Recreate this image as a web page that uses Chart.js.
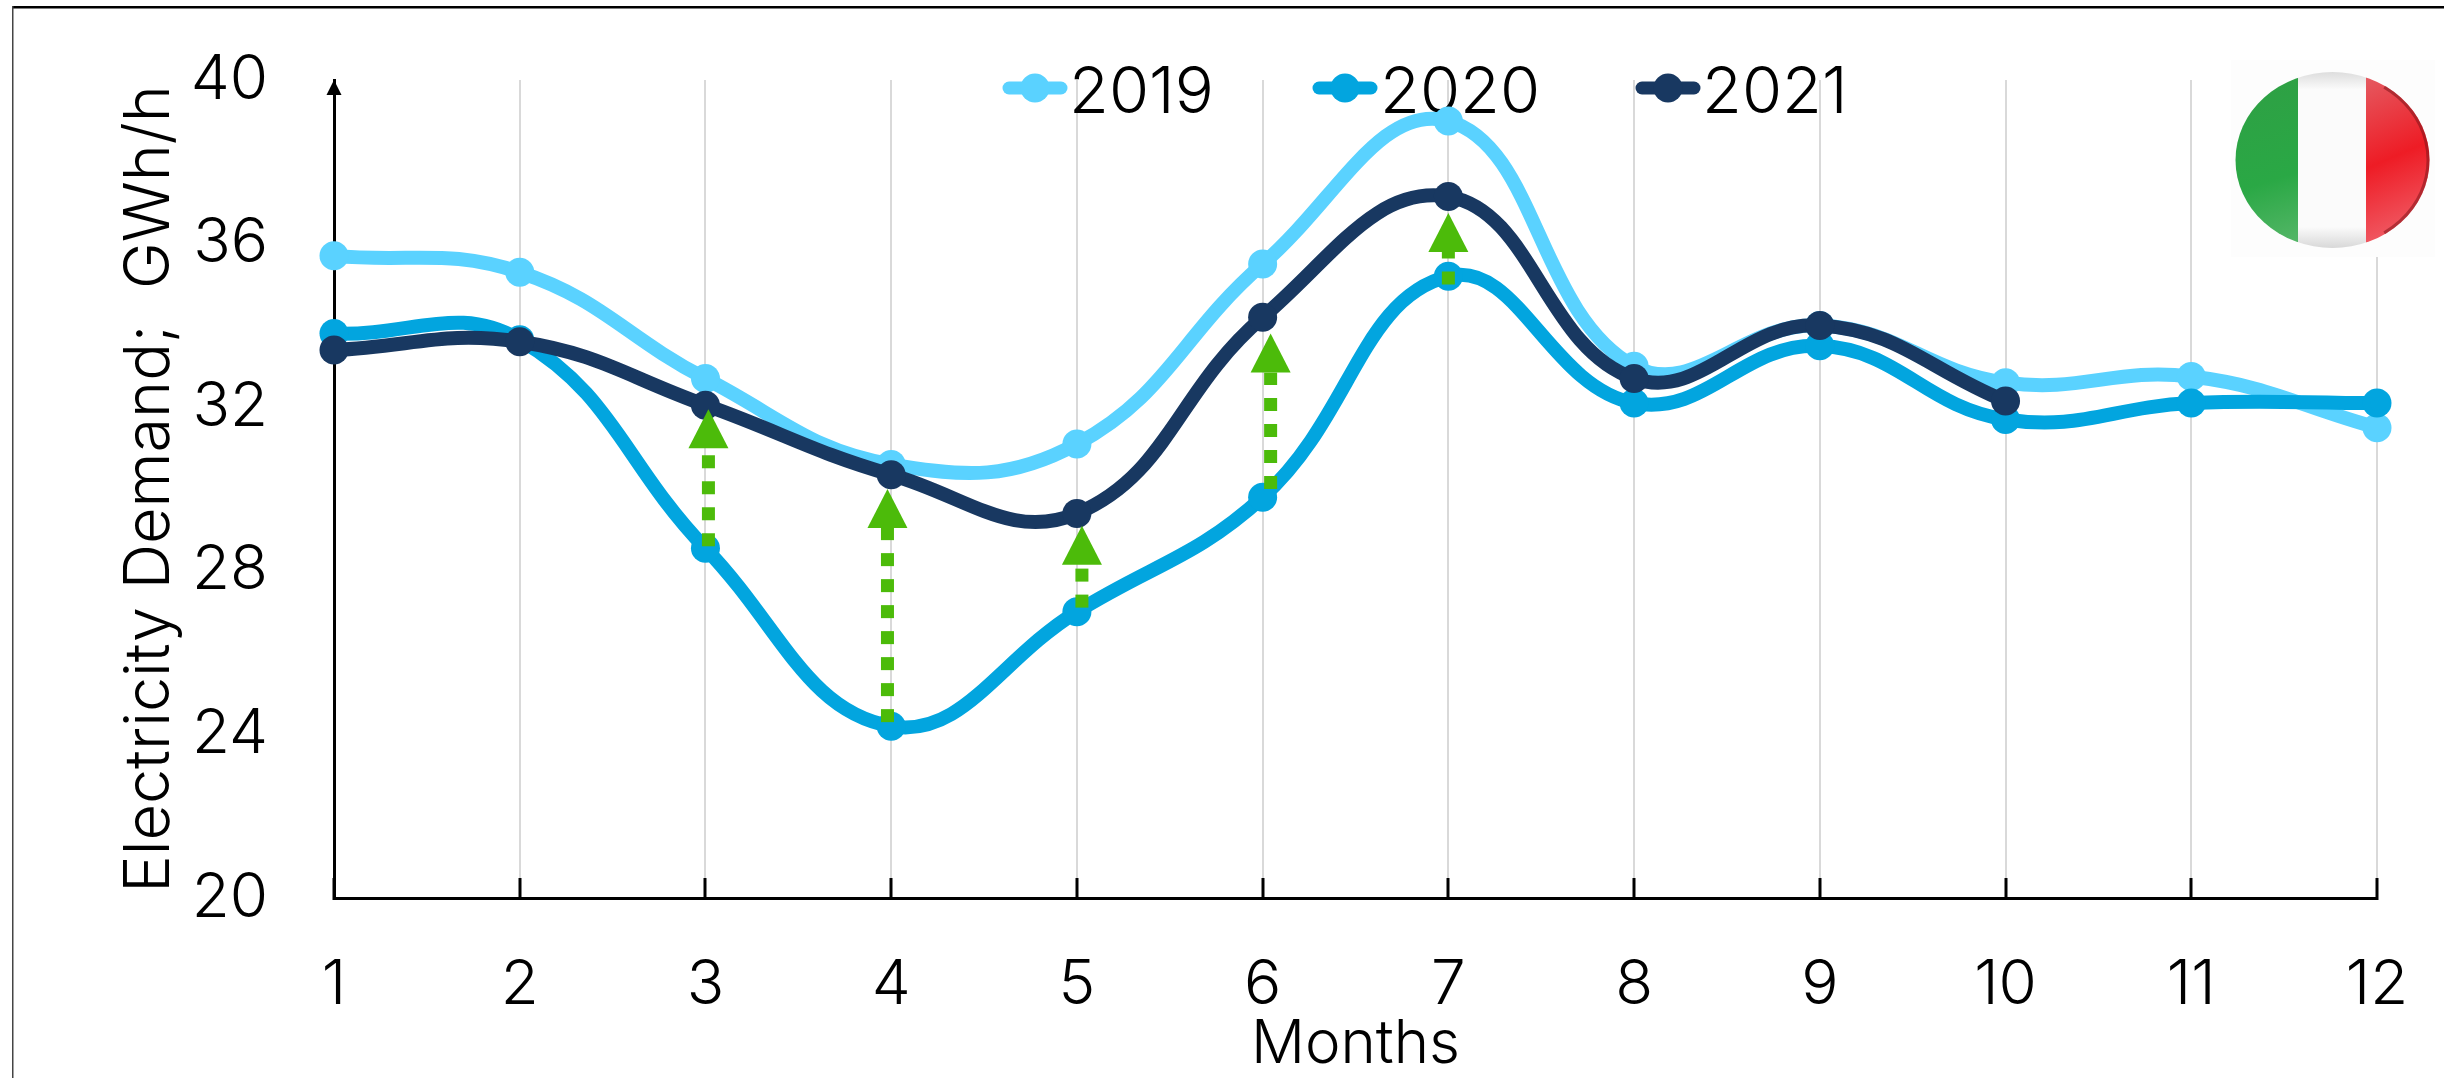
<!DOCTYPE html>
<html>
<head>
<meta charset="utf-8">
<title>Italy electricity demand</title>
<script src="https://cdn.jsdelivr.net/npm/chart.js@4"></script>
<style>
html,body{margin:0;padding:0;background:#fff;}
canvas{display:block;}
</style>
</head>
<body>
<canvas id="demandChart" width="2444" height="1078"></canvas>
<script>
// Data
const months=["1","2","3","4","5","6","7","8","9","10","11","12"];
const demand2019=[35.7,35.3,32.7,30.6,31.1,35.5,39.0,33.0,34.0,32.6,32.75,31.5];
const demand2020=[33.8,33.65,28.55,24.2,27.0,29.8,35.2,32.1,33.5,31.7,32.1,32.1];
const demand2021=[33.4,33.6,32.05,30.35,29.4,34.2,37.15,32.7,34.0,32.15];
const yTicks=[20,24,28,32,36,40];

// Green arrows: x position as a month index, start and tip as demand values
const arrowMonths=[2.016,2.98,4.027,5.043,6];
const arrowStart=[28.6,24.3,27.1,30.0,35.0];
const arrowTip=[31.95,30.0,29.1,33.8,36.75];

const fontName='Inter';
const green="#4cbb0a";

// Legend positions on the canvas (marker centre, text start)
const legendMarkerX=[1035,1345,1668];
const legendTextX=[1069,1380,1702];
const legendY=88;

function series(label,values,color,order){
    return {
        label:label,
        data:values,
        borderColor:color,
        backgroundColor:color,
        borderWidth:14,
        tension:.42,
        pointRadius:14.5,
        pointHoverRadius:14.5,
        pointBackgroundColor:color,
        pointBorderColor:color,
        pointBorderWidth:0,
        clip:false,
        order:order
    };
}

// Frame, legend, flag and arrows
const extras={
    id:"extras",
    beforeDatasetsDraw(chart){
        const ctx=chart.ctx;
        ctx.save();

        // frame
        ctx.fillStyle="#000";
        ctx.fillRect(12,6,2432,2.5);
        ctx.fillStyle="#444";
        ctx.fillRect(12,6,1.5,1072);

        // flag box hides the grid line behind it
        ctx.fillStyle="#fdfdfd";
        ctx.fillRect(2231,60,204,197);

        // legend
        chart.data.datasets.forEach(function(d,i){
            const mx=legendMarkerX[i];
            ctx.strokeStyle=d.borderColor;
            ctx.fillStyle=d.borderColor;
            ctx.lineWidth=13;
            ctx.lineCap="round";
            ctx.beginPath();
            ctx.moveTo(mx-26,legendY);
            ctx.lineTo(mx+26,legendY);
            ctx.stroke();
            ctx.beginPath();
            ctx.arc(mx,legendY,14.5,0,Math.PI*2);
            ctx.fill();
            ctx.fillStyle="#000";
            ctx.font="300 65px "+fontName;
            ctx.textAlign="left";
            ctx.textBaseline="middle";
            ctx.fillText(d.label,legendTextX[i],legendY+5);
        });

        ctx.restore();
    },
    afterDatasetsDraw(chart){
        const ctx=chart.ctx;
        const x=chart.scales.x;
        const y=chart.scales.y;

        // y axis arrow head
        ctx.save();
        ctx.fillStyle="#000";
        ctx.beginPath();
        ctx.moveTo(334,80);
        ctx.lineTo(326.5,95);
        ctx.lineTo(341.5,95);
        ctx.closePath();
        ctx.fill();
        ctx.restore();

        // arrows
        arrowMonths.forEach(function(m,i){
            const px=x.getPixelForValue(m);
            const y0=y.getPixelForValue(arrowStart[i]);
            const y1=y.getPixelForValue(arrowTip[i]);
            ctx.save();
            ctx.strokeStyle=green;
            ctx.fillStyle=green;
            ctx.lineWidth=13;
            ctx.setLineDash([13,13]);
            ctx.beginPath();
            ctx.moveTo(px,y0);
            ctx.lineTo(px,y1+39);
            ctx.stroke();
            ctx.setLineDash([]);
            ctx.beginPath();
            ctx.moveTo(px,y1);
            ctx.lineTo(px-20,y1+39);
            ctx.lineTo(px+20,y1+39);
            ctx.closePath();
            ctx.fill();
            ctx.restore();
        });

        drawFlag(ctx);
    }
};

function drawFlag(ctx){
    const cx=2332.5,cy=160,rx=97,ry=88;
    ctx.save();
    ctx.beginPath();
    ctx.ellipse(cx,cy,rx,ry,0,0,Math.PI*2);
    ctx.clip();

    let g=ctx.createLinearGradient(2235,60,2298,260);
    g.addColorStop(0,"#2f9e44");
    g.addColorStop(.6,"#2aa845");
    g.addColorStop(1,"#5fba70");
    ctx.fillStyle=g;
    ctx.fillRect(2235,60,63,200);

    g=ctx.createLinearGradient(0,72,0,248);
    g.addColorStop(0,"#dddddd");
    g.addColorStop(.1,"#fbfbfb");
    g.addColorStop(.88,"#fbfbfb");
    g.addColorStop(1,"#d8d8d8");
    ctx.fillStyle=g;
    ctx.fillRect(2298,60,68,200);

    g=ctx.createLinearGradient(2366,80,2430,230);
    g.addColorStop(0,"#e5585f");
    g.addColorStop(.5,"#ee1c25");
    g.addColorStop(1,"#f0606a");
    ctx.fillStyle=g;
    ctx.fillRect(2366,60,70,200);

    // darker rim on the red side
    ctx.strokeStyle="rgba(130,20,25,.55)";
    ctx.lineWidth=6;
    ctx.beginPath();
    ctx.ellipse(cx,cy,rx,ry,0,-1,1);
    ctx.stroke();
    ctx.restore();
}

new Chart(document.getElementById("demandChart"),{
    type:"line",
    data:{
        labels:months,
        datasets:[
            series("2019",demand2019,"#5ad2ff",3),
            series("2020",demand2020,"#02a5df",2),
            series("2021",demand2021,"#183861",1)
        ]
    },
    plugins:[extras],
    options:{
        responsive:false,
        animation:false,
        layout:{padding:{top:80,right:67,left:0,bottom:0}},
        plugins:{
            tooltip:{enabled:false},
            legend:{display:false}
        },
        scales:{
            x:{
                offset:false,
                afterFit(s){
                    s.height=180;
                    s.paddingLeft=0;
                    s.paddingRight=0;
                },
                border:{display:true,color:"#000",width:3},
                grid:{color:"#d9d9d9",lineWidth:2,tickColor:"#000",tickWidth:3,tickLength:-20},
                ticks:{color:"#000",padding:70,maxRotation:0,font:{family:fontName,size:62,weight:"300"}},
                title:{
                    display:true,
                    text:"Months",
                    color:"#000",
                    padding:{top:0,bottom:0},
                    font:{family:fontName,size:60,weight:"300",lineHeight:1.1}
                }
            },
            y:{
                min:20,
                max:40,
                afterFit(s){
                    s.width=334;
                    s.paddingTop=0;
                    s.paddingBottom=0;
                },
                afterBuildTicks(s){s.ticks=yTicks.map(function(v){return {value:v};});},
                border:{display:true,color:"#000",width:3},
                grid:{display:false},
                ticks:{color:"#000",padding:58,font:{family:fontName,size:62,weight:"300"}},
                title:{
                    display:true,
                    text:"Electricity Demand;  GWh/h",
                    color:"#000",
                    padding:{top:112,bottom:0},
                    font:{family:fontName,size:63,weight:"300"}
                }
            }
        }
    }
});
</script>
</body>
</html>
